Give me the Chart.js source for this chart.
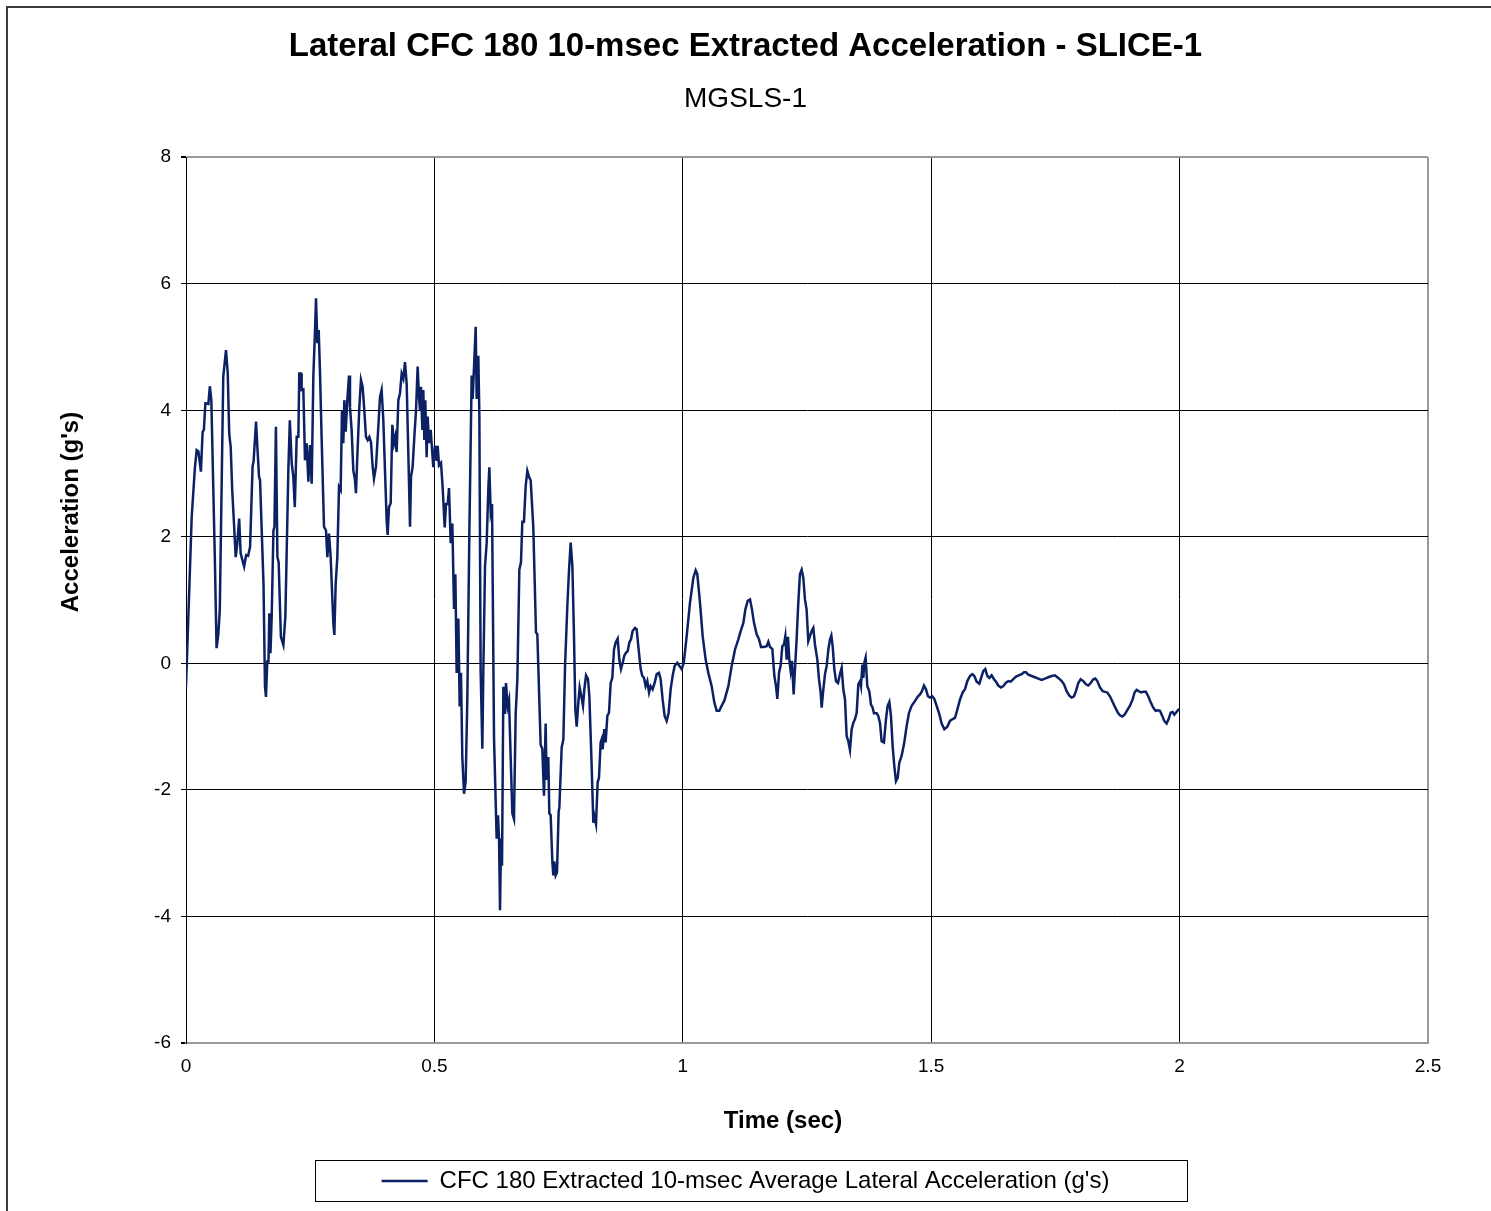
<!DOCTYPE html>
<html>
<head>
<meta charset="utf-8">
<title>Lateral CFC 180 10-msec Extracted Acceleration - SLICE-1</title>
<script src="https://cdn.jsdelivr.net/npm/chart.js@4.4.0/dist/chart.umd.min.js"></script>
<style>
    html, body { margin: 0; padding: 0; background: #fff; }
    #wrap { position: relative; width: 1491px; height: 1211px; }
</style>
</head>
<body>
<div id="wrap"><canvas id="accelChart" width="1491" height="1211"></canvas></div>
<script>
// Time axis (sec) and lateral acceleration (g's)
const timeSec = [
    0.000, 0.0115, 0.018, 0.0215, 0.025, 0.030, 0.0335, 0.036, 0.039, 0.045,
    0.048, 0.051, 0.058, 0.0615, 0.065, 0.068, 0.075, 0.0805, 0.084, 0.087,
    0.090, 0.093, 0.0966, 0.100, 0.103, 0.107, 0.110, 0.117, 0.121, 0.125,
    0.129, 0.134, 0.136, 0.141, 0.144, 0.147, 0.149, 0.156, 0.159, 0.161,
    0.1636, 0.166, 0.1677, 0.170, 0.1725, 0.176, 0.178, 0.181, 0.184, 0.1865,
    0.191, 0.196, 0.200, 0.206, 0.209, 0.2128, 0.216, 0.219, 0.2228, 0.2262,
    0.228, 0.2315, 0.2328, 0.2362, 0.2395, 0.2429, 0.2463, 0.2496, 0.253, 0.2563,
    0.2597, 0.2617, 0.2644, 0.2671, 0.2698, 0.2731, 0.2778, 0.2818, 0.2845, 0.2878,
    0.2912, 0.2966, 0.2986, 0.3013, 0.3046, 0.308, 0.3113, 0.314, 0.3167, 0.3187,
    0.3214, 0.3247, 0.3281, 0.3301, 0.3334, 0.3368, 0.3401, 0.3421, 0.3448, 0.3489,
    0.3522, 0.3556, 0.3589, 0.3623, 0.3656, 0.369, 0.3723, 0.3757, 0.3784, 0.3824,
    0.3871, 0.3905, 0.3938, 0.3972, 0.4005, 0.4039, 0.4059, 0.4086, 0.412, 0.4153,
    0.4187, 0.4213, 0.424, 0.4274, 0.4308, 0.4341, 0.4375, 0.4408, 0.4442, 0.4475,
    0.4509, 0.4529, 0.4562, 0.4596, 0.463, 0.4663, 0.469, 0.471, 0.473, 0.4757,
    0.4777, 0.4797, 0.4817, 0.4844, 0.4864, 0.4891, 0.4925, 0.4978, 0.5012, 0.5046,
    0.5066, 0.5093, 0.5133, 0.5167, 0.5207, 0.5234, 0.5268, 0.5294, 0.5328, 0.5361,
    0.5395, 0.5422, 0.5448, 0.5482, 0.5509, 0.5535, 0.5562, 0.5596, 0.5629, 0.5663,
    0.5703, 0.575, 0.577, 0.5797, 0.5831, 0.5851, 0.5884, 0.5905, 0.5931, 0.5965,
    0.5985, 0.6019, 0.6052, 0.6086, 0.6106, 0.6133, 0.616, 0.620, 0.6253, 0.628,
    0.6301, 0.6321, 0.6341, 0.6361, 0.6388, 0.6421, 0.6441, 0.6475, 0.6502, 0.6535,
    0.6569, 0.6602, 0.6636, 0.667, 0.671, 0.6743, 0.677, 0.6803, 0.6837, 0.6871,
    0.6904, 0.6938, 0.6991, 0.7045, 0.7072, 0.7139, 0.7172, 0.7206, 0.7239, 0.7259,
    0.7293, 0.7313, 0.734, 0.7374, 0.7394, 0.7414, 0.7441, 0.7468, 0.7501, 0.7515,
    0.7562, 0.7596, 0.763, 0.7676, 0.771, 0.7743, 0.7777, 0.781, 0.7837, 0.7864,
    0.7897, 0.7924, 0.7958, 0.7991, 0.8018, 0.8052, 0.8092, 0.8119, 0.8159, 0.8199,
    0.8219, 0.8253, 0.8286, 0.8313, 0.8346, 0.8367, 0.8387, 0.842, 0.8447, 0.8481,
    0.8514, 0.8548, 0.8581, 0.8615, 0.8649, 0.8689, 0.8722, 0.8756, 0.879, 0.8823,
    0.8857, 0.889, 0.8924, 0.8957, 0.899, 0.9038, 0.9071, 0.9105, 0.9152, 0.9185,
    0.9219, 0.9252, 0.9286, 0.932, 0.9353, 0.9393, 0.9433, 0.9474, 0.952, 0.9554,
    0.9594, 0.9634, 0.9675, 0.9715, 0.9755, 0.9795, 0.9836, 0.9889, 0.993, 0.9977,
    1.002, 1.0078, 1.0145, 1.0212, 1.0259, 1.0292, 1.0346, 1.040, 1.046, 1.0514,
    1.0581, 1.0635, 1.0682, 1.0735, 1.0782, 1.0836, 1.0917, 1.0984, 1.1051, 1.1118,
    1.1165, 1.1219, 1.1259, 1.1306, 1.1353, 1.1393, 1.1433, 1.1487, 1.1534, 1.1574,
    1.1634, 1.1688, 1.1722, 1.1755, 1.1802, 1.1843, 1.1876, 1.1903, 1.1937, 1.197,
    1.2003, 1.2037, 1.2064, 1.209, 1.2117, 1.2144, 1.2171, 1.2198, 1.2231, 1.2258,
    1.2291, 1.2325, 1.2358, 1.2392, 1.2426, 1.2459, 1.2492, 1.2526, 1.256, 1.2593,
    1.2627, 1.266, 1.2708, 1.2741, 1.2775, 1.2795, 1.2829, 1.2862, 1.2896, 1.293,
    1.2963, 1.299, 1.3017, 1.305, 1.3084, 1.3124, 1.3164, 1.3198, 1.3231, 1.3265,
    1.3298, 1.3332, 1.3365, 1.3399, 1.3432, 1.3466, 1.350, 1.3533, 1.3567, 1.3587,
    1.3614, 1.3634, 1.3654, 1.368, 1.3714, 1.3754, 1.3788, 1.3821, 1.3848, 1.3902,
    1.3935, 1.3969, 1.4002, 1.4049, 1.409, 1.4123, 1.4157, 1.419, 1.4224, 1.4257,
    1.4291, 1.4325, 1.4358, 1.4405, 1.4452, 1.4506, 1.4553, 1.4606, 1.4653, 1.4694,
    1.4734, 1.4774, 1.4814, 1.4855, 1.4895, 1.4935, 1.4975, 1.5022, 1.5062, 1.5109,
    1.5163, 1.521, 1.5264, 1.5325, 1.5378, 1.5432, 1.5479, 1.5526, 1.558, 1.5633,
    1.568, 1.5727, 1.5781, 1.5828, 1.5868, 1.5915, 1.5969, 1.6016, 1.6049, 1.6089,
    1.613, 1.617, 1.6217, 1.6264, 1.6304, 1.6351, 1.6405, 1.6452, 1.6499, 1.6553,
    1.660, 1.6653, 1.6707, 1.6761, 1.6821, 1.6868, 1.6908, 1.6955, 1.7022, 1.7089,
    1.7156, 1.7223, 1.729, 1.7357, 1.7424, 1.7491, 1.7559, 1.7626, 1.7673, 1.7726,
    1.778, 1.7827, 1.7874, 1.7914, 1.7961, 1.8008, 1.8062, 1.8115, 1.8162, 1.8209,
    1.8263, 1.8303, 1.8343, 1.8397, 1.8451, 1.8498, 1.8545, 1.8598, 1.8652, 1.8706,
    1.8759, 1.8799, 1.8846, 1.8893, 1.8947, 1.9001, 1.9054, 1.9094, 1.9135, 1.9182,
    1.9222, 1.9269, 1.9322, 1.9369, 1.9416, 1.947, 1.9517, 1.9564, 1.9604, 1.9651,
    1.9691, 1.9738, 1.9779, 1.9819, 1.9859, 1.9893, 1.9926, 1.9966, 2.000
];

const accelG = [
    -0.37, 2.32, 3.10, 3.37, 3.35, 3.03, 3.66, 3.69, 4.11, 4.10,
    4.38, 4.16, 1.68, 0.24, 0.45, 0.84, 4.53, 4.95, 4.59, 3.63,
    3.42, 2.74, 2.21, 1.68, 1.87, 2.29, 1.74, 1.53, 1.71, 1.70,
    1.84, 3.11, 3.19, 3.82, 3.37, 2.95, 2.90, 1.26, -0.37, -0.53,
    0.03, 0.03, 0.79, 0.16, 0.74, 2.10, 2.16, 3.74, 1.68, 1.60,
    0.42, 0.29, 0.74, 3.05, 3.84, 3.16, 2.95, 2.47, 3.58, 3.58,
    4.58, 4.58, 4.32, 4.33, 3.21, 3.48, 2.87, 3.45, 2.84, 4.53,
    5.27, 5.77, 5.06, 5.27, 4.58, 3.53, 2.16, 2.10, 1.68, 2.05,
    1.68, 0.63, 0.45, 1.26, 1.68, 2.79, 2.74, 4.00, 3.48, 4.16,
    3.66, 4.16, 4.55, 4.05, 3.69, 3.05, 2.90, 2.69, 3.26, 4.05,
    4.48, 4.37, 4.00, 3.58, 3.53, 3.58, 3.50, 3.11, 2.92, 3.11,
    3.74, 4.21, 4.32, 3.84, 3.05, 2.26, 2.03, 2.47, 2.53, 3.77,
    3.48, 3.58, 3.34, 4.16, 4.27, 4.58, 4.50, 4.76, 4.42, 3.32,
    2.16, 2.95, 3.11, 3.58, 4.00, 4.69, 4.21, 4.00, 4.37, 3.69,
    4.32, 3.53, 4.16, 3.26, 3.90, 3.48, 3.69, 3.10, 3.44, 3.20,
    3.44, 3.13, 3.17, 2.77, 2.15, 2.52, 2.52, 2.77, 1.90, 2.21,
    0.86, 1.41, -0.15, 0.71, -0.68, -0.15, -1.48, -2.06, -1.87, -0.55,
    2.03, 4.55, 4.18, 4.67, 5.32, 4.18, 4.86, 3.93, -0.12, -1.35,
    -0.12, 1.54, 1.90, 2.77, 3.10, 2.40, 2.52, -1.17, -2.77, -2.40,
    -2.77, -3.90, -2.77, -3.20, -0.37, -0.80, -0.31, -0.68, -0.58, -1.48,
    -2.37, -2.46, -0.80, -0.25, 1.48, 1.60, 2.24, 2.24, 2.80, 3.04,
    2.95, 2.89, 2.15, 0.49, 0.46, -1.29, -1.35, -2.09, -0.95, -1.84,
    -1.48, -2.37, -2.40, -3.13, -3.35, -3.13, -3.35, -3.30, -2.34, -2.28,
    -1.33, -1.20, -0.04, 0.91, 1.48, 1.91, 1.54, 0.43, -0.73, -1.00,
    -0.62, -0.38, -0.52, -0.67, -0.41, -0.19, -0.25, -0.52, -1.46, -2.52,
    -2.41, -2.54, -1.88, -1.81, -1.25, -1.20, -1.36, -1.04, -1.25, -0.83,
    -0.78, -0.31, -0.23, 0.22, 0.33, 0.39, 0.06, -0.09, 0.01, 0.12,
    0.17, 0.19, 0.33, 0.38, 0.51, 0.56, 0.54, 0.27, -0.09, -0.20,
    -0.23, -0.36, -0.28, -0.46, -0.36, -0.41, -0.31, -0.17, -0.15, -0.25,
    -0.57, -0.83, -0.91, -0.78, -0.41, -0.20, -0.04, 0.01, -0.04, -0.09,
    0.01, 0.43, 0.96, 1.35, 1.47, 1.41, 0.96, 0.43, 0.06, -0.15,
    -0.36, -0.62, -0.75, -0.75, -0.67, -0.59, -0.36, -0.04, 0.22, 0.38,
    0.51, 0.64, 0.85, 0.99, 1.01, 0.85, 0.64, 0.46, 0.38, 0.26,
    0.26, 0.27, 0.34, 0.26, 0.23, -0.20, -0.36, -0.56, -0.15, -0.03,
    0.27, 0.30, 0.43, 0.06, 0.42, 0.06, -0.12, 0.04, -0.49, -0.09,
    0.38, 0.96, 1.41, 1.48, 1.35, 1.01, 0.85, 0.35, 0.43, 0.51,
    0.56, 0.30, 0.06, -0.25, -0.46, -0.70, -0.41, -0.17, -0.04, 0.22,
    0.38, 0.44, 0.27, -0.09, -0.28, -0.31, -0.17, -0.07, -0.41, -0.57,
    -1.15, -1.23, -1.37, -1.04, -0.94, -0.88, -0.78, -0.33, -0.28, -0.36,
    -0.02, -0.23, 0.01, 0.09, -0.36, -0.44, -0.65, -0.70, -0.79, -0.79,
    -0.83, -0.94, -1.23, -1.25, -0.88, -0.67, -0.61, -0.83, -1.31, -1.62,
    -1.86, -1.81, -1.57, -1.46, -1.28, -0.99, -0.78, -0.67, -0.62, -0.57,
    -0.52, -0.49, -0.44, -0.35, -0.41, -0.52, -0.54, -0.52, -0.56, -0.67,
    -0.80, -0.95, -1.04, -1.00, -0.91, -0.88, -0.86, -0.73, -0.57, -0.46,
    -0.41, -0.28, -0.20, -0.17, -0.20, -0.29, -0.32, -0.20, -0.12, -0.09,
    -0.20, -0.23, -0.19, -0.25, -0.29, -0.35, -0.38, -0.36, -0.31, -0.28,
    -0.29, -0.25, -0.21, -0.19, -0.17, -0.14, -0.14, -0.18, -0.20, -0.22,
    -0.24, -0.26, -0.24, -0.22, -0.20, -0.19, -0.23, -0.28, -0.33, -0.44,
    -0.51, -0.54, -0.52, -0.44, -0.31, -0.25, -0.28, -0.33, -0.35, -0.31,
    -0.25, -0.24, -0.28, -0.38, -0.44, -0.45, -0.46, -0.52, -0.61, -0.70,
    -0.78, -0.82, -0.84, -0.81, -0.74, -0.67, -0.57, -0.46, -0.42, -0.44,
    -0.46, -0.45, -0.45, -0.52, -0.61, -0.70, -0.75, -0.74, -0.75, -0.83,
    -0.91, -0.95, -0.88, -0.78, -0.77, -0.81, -0.78, -0.74, -0.72
];

// Axis ranges and tick steps
const xTicks = [0, 0.5, 1, 1.5, 2, 2.5];
const yTicks = [-6, -4, -2, 0, 2, 4, 6, 8];

const FONT = '"Liberation Sans", Arial, sans-serif';
const LINE_COLOR = '#0b2163';
const EDGE_GRAY = '#9a9a9a';

// Axis titles, legend frame and outer border are drawn on top of the chart
const decorations = {
    id: 'decorations',
    afterDraw(chart) {
        const ctx = chart.ctx;
        const area = chart.chartArea;
        ctx.save();

        // outer chart border (only top and left are inside the picture)
        ctx.strokeStyle = '#3a3a3a';
        ctx.lineWidth = 2;
        ctx.beginPath();
        ctx.moveTo(1491, 7);
        ctx.lineTo(7, 7);
        ctx.lineTo(7, 1211);
        ctx.stroke();

        ctx.fillStyle = '#000';
        ctx.font = 'bold 24px ' + FONT;
        ctx.textAlign = 'center';
        ctx.textBaseline = 'middle';
        ctx.fillText('Time (sec)', area.left + 597, 1121);

        ctx.translate(71, 512);
        ctx.rotate(-Math.PI / 2);
        ctx.fillText("Acceleration (g's)", 0, 0);
        ctx.setTransform(1, 0, 0, 1, 0, 0);

        // legend frame
        const lg = chart.legend;
        if (lg && lg.legendHitBoxes.length) {
            const hb = lg.legendHitBoxes[0];
            const cy = hb.top + hb.height / 2;
            ctx.strokeStyle = '#000';
            ctx.lineWidth = 1;
            ctx.strokeRect(315.5, Math.round(cy) - 20.5, 872, 41);
        }
        ctx.restore();
    }
};

const edge = (value, lo, hi) => value === lo || value === hi;

new Chart(document.getElementById('accelChart'), {
    type: 'scatter',
    data: {
        datasets: [{
            label: "CFC 180 Extracted 10-msec Average Lateral Acceleration (g's)",
            data: timeSec.map((t, i) => ({ x: t, y: accelG[i] })),
            showLine: true,
            borderColor: LINE_COLOR,
            backgroundColor: LINE_COLOR,
            borderWidth: 2.5,
            pointRadius: 0,
            tension: 0
        }]
    },
    options: {
        responsive: false,
        animation: false,
        layout: { padding: { top: 0, left: 0, right: 0, bottom: 8 } },
        plugins: {
            title: {
                display: true,
                text: 'Lateral CFC 180 10-msec Extracted Acceleration - SLICE-1',
                color: '#000',
                font: { family: FONT, size: 33, weight: 'bold' },
                padding: { top: 27, bottom: 0 }
            },
            subtitle: {
                display: true,
                text: 'MGSLS-1',
                color: '#000',
                font: { family: FONT, size: 28 },
                padding: { top: 16, bottom: 41 }
            },
            legend: {
                position: 'bottom',
                labels: {
                    color: '#000',
                    font: { family: FONT, size: 24 },
                    usePointStyle: true,
                    pointStyle: 'line',
                    pointStyleWidth: 46,
                    padding: 10
                }
            },
            tooltip: { enabled: false }
        },
        scales: {
            x: {
                type: 'linear',
                min: xTicks[0],
                max: xTicks[xTicks.length - 1],
                afterBuildTicks: (scale) => { scale.ticks = xTicks.map(v => ({ value: v })); },
                afterFit: (scale) => { scale.height = 116; },
                ticks: {
                    color: '#000',
                    font: { family: FONT, size: 19 },
                    padding: 12,
                    maxRotation: 0,
                    callback: (v) => String(v)
                },
                grid: {
                    drawTicks: false,
                    color: (c) => c.tick && c.tick.value === 2.5 ? EDGE_GRAY : '#000',
                    lineWidth: (c) => c.tick && c.tick.value === 2.5 ? 2 : 1
                },
                border: { display: true, color: EDGE_GRAY, width: 2 }
            },
            y: {
                type: 'linear',
                min: yTicks[0],
                max: yTicks[yTicks.length - 1],
                afterBuildTicks: (scale) => { scale.ticks = yTicks.map(v => ({ value: v })); },
                afterFit: (scale) => { scale.width = 186; },
                ticks: {
                    color: '#000',
                    font: { family: FONT, size: 19 },
                    padding: 10,
                    callback: (v) => String(v)
                },
                grid: {
                    tickLength: 5,
                    tickColor: '#000',
                    color: (c) => c.tick && edge(c.tick.value, -6, 8) ? EDGE_GRAY : '#000',
                    lineWidth: (c) => c.tick && edge(c.tick.value, -6, 8) ? 2 : 1
                },
                border: { display: true, color: '#000', width: 1 }
            },
            // empty right-hand strip so the plot stops at the same place as the original
            yRight: {
                type: 'linear',
                position: 'right',
                display: true,
                afterFit: (scale) => { scale.width = 63; },
                ticks: { display: false },
                grid: { display: false, drawOnChartArea: false },
                border: { display: false }
            }
        }
    },
    plugins: [decorations]
});
</script>
</body>
</html>
